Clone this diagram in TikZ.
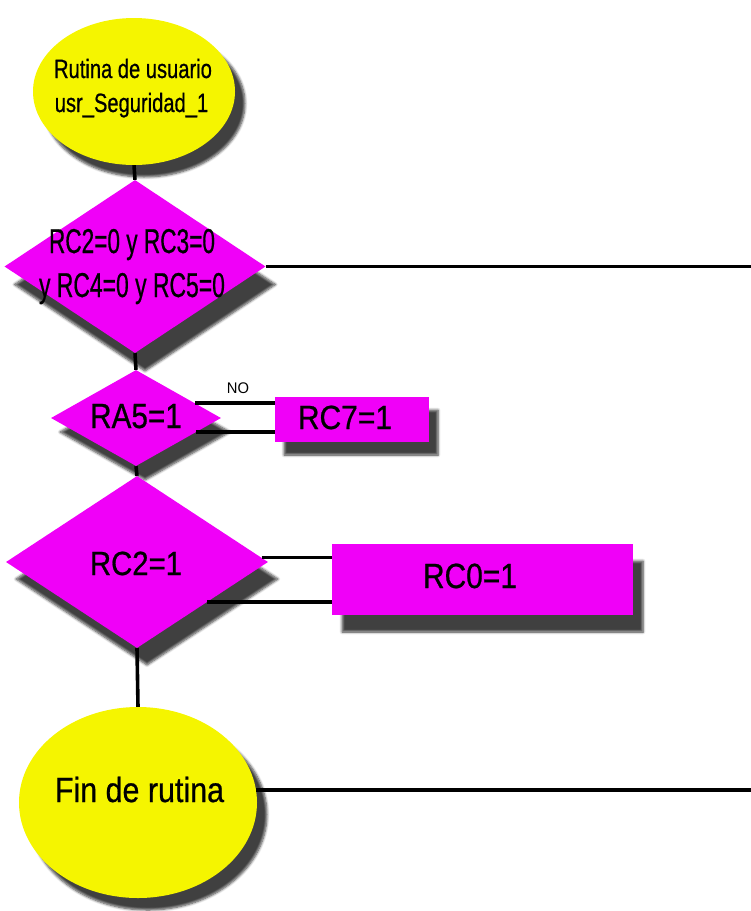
\documentclass[tikz,border=0pt]{standalone}
\usepackage{fontspec}
\setmainfont{Liberation Sans}
\newfontfamily\embf{Liberation Sans}[FakeBold=0.7]
\usepackage{graphicx}
\usetikzlibrary{shapes.geometric,shadows.blur,calc}
\definecolor{mag}{RGB}{240,0,248}
\definecolor{yel}{RGB}{245,245,0}
\newcommand{\ftxt}[3]{{\embf\fontsize{#1}{#1}\selectfont\scalebox{#2}[1]{#3}}}
\newcommand{\ntxt}[3]{{\fontsize{#1}{#1}\selectfont\scalebox{#2}[1]{#3}}}
\begin{document}
\begin{tikzpicture}[x=1pt,y=-1pt,
  shp/.style={fill=#1, draw=none, inner sep=0pt},
  sh/.style 2 args={blur shadow={shadow xshift=#1pt, shadow yshift=-#2pt, shadow opacity=75, shadow blur radius=2.5pt, shadow blur steps=6}},
  ell/.style={ellipse, shp=yel},
  dia/.style={diamond, shp=mag},
  box/.style={rectangle, shp=mag},
  lbl/.style={anchor=base, inner sep=0pt, text=black},
  conn/.style={line width=3.6pt, black},
]
\useasboundingbox (0,0) rectangle (751,911);
\coordinate (rightedge) at (751,0);
% shapes
\node[ell, sh={10}{12}, minimum width=202pt, minimum height=147pt] (e1) at (134,91.5) {};
\node[dia, sh={10}{18}, minimum width=261pt, minimum height=173pt] (d1) at (135,266.5) {};
\node[dia, sh={9}{14}, minimum width=170pt, minimum height=96pt] (d2) at (136,418) {};
\node[box, sh={9}{13}, minimum width=154pt, minimum height=45pt] (r7) at (352,419.5) {};
\node[dia, sh={10}{17}, minimum width=262pt, minimum height=172pt] (d3) at (137,562) {};
\node[box, sh={10}{17}, minimum width=301pt, minimum height=71pt] (r0) at (482.5,579.5) {};
\node[ell, sh={10}{12}, minimum width=238pt, minimum height=191pt] (fin) at (138,802.5) {};
% connectors
\draw[conn] (e1.south) -- (d1.north);
\draw[conn] (d1.south) -- (d2.north);
\draw[conn] (d2.south) -- (d3.north);
\draw[conn] (d3.south) -- (fin.north);
\draw[conn] (d1.east) -- (d1.east -| rightedge);
\coordinate (fe) at (fin.6);
\draw[conn] (fe) -- (fe -| rightedge);
\coordinate (a1) at ($(d2.east)!0.31!(d2.north)$);
\coordinate (a2) at ($(d2.east)!0.29!(d2.south)$);
\draw[conn] (a1) -- (a1 -| r7.west);
\draw[conn] (a2) -- (a2 -| r7.west);
\coordinate (b1) at ($(d3.east)!0.05!(d3.north)$);
\coordinate (b2) at ($(d3.east)!0.465!(d3.south)$);
\draw[conn] (b1) -- (b1 -| r0.west);
\draw[conn] (b2) -- (b2 -| r0.west);
% texts
\node[lbl] (t1a) at (133,78) {\ftxt{26.5}{0.76}{Rutina de usuario}};
\node[lbl] (t1b) at (131.5,112) {\ftxt{26.5}{0.76}{usr\_Seguridad\_1}};
\node[lbl] (t2a) at (132,253) {\ftxt{34.5}{0.656}{RC2=0 y RC3=0}};
\node[lbl] (t2b) at (132,297) {\ftxt{34.5}{0.664}{y RC4=0 y RC5=0}};
\node[lbl] (t3) at (136,428) {\ftxt{35}{0.85}{RA5=1}};
\node[lbl] (t4) at (345,429) {\ftxt{33.5}{0.895}{RC7=1}};
\node[lbl] (no) at (238,393) {\ntxt{15.4}{0.96}{NO}};
\node[lbl] (t5) at (136,575) {\ftxt{33.5}{0.875}{RC2=1}};
\node[lbl] (t6) at (470,588) {\ftxt{35}{0.855}{RC0=1}};
\node[lbl] (t7) at (139.5,802) {\ftxt{35}{0.87}{Fin de rutina}};
\end{tikzpicture}
\end{document}
